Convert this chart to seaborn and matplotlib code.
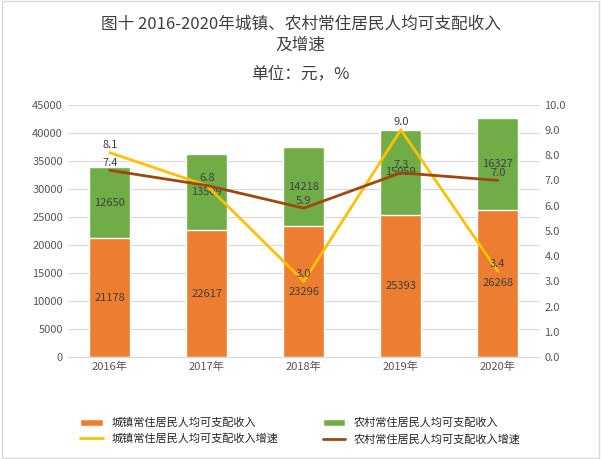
import seaborn as sns
import matplotlib.pyplot as plt
import pandas as pd

years = ["2016年", "2017年", "2018年", "2019年", "2020年"]
urban = [21178, 22617, 23296, 25393, 26268]
rural = [12650, 13509, 14218, 15059, 16327]
urban_growth = [8.1, 6.8, 3.0, 9.0, 3.4]
rural_growth = [7.4, 6.8, 5.9, 7.3, 7.0]

sns.set_style("white")
plt.rcParams['font.family'] = ['Noto Sans CJK SC', 'DejaVu Sans']

df = pd.DataFrame({"year": years, "urban": urban, "rural": rural})
df["total"] = df["urban"] + df["rural"]

fig = plt.figure(figsize=(6.01, 4.59), dpi=100)
ax = fig.add_axes([0.113, 0.222, 0.785, 0.55])
sns.barplot(data=df, x="year", y="total", color="#70AD47", width=0.42, saturation=1, ax=ax,
            label="农村常住居民人均可支配收入")
sns.barplot(data=df, x="year", y="urban", color="#ED7D31", width=0.42, saturation=1, ax=ax,
            label="城镇常住居民人均可支配收入")
for i in range(len(years)):
    ax.text(i, urban[i] / 2, str(urban[i]), ha="center", va="center", fontsize=8, color="#404040")
    ax.text(i, urban[i] + rural[i] / 2, str(rural[i]), ha="center", va="center", fontsize=8, color="#404040")
ax.set_ylim(0, 45000)
ax.set_yticks(range(0, 45001, 5000))
ax.set_xlabel("")
ax.set_ylabel("")
ax.yaxis.grid(True, color="#D9D9D9", lw=0.8)
ax.set_axisbelow(True)
ax.tick_params(labelsize=8, length=0, labelcolor="#595959")
sns.despine(ax=ax, left=True, top=True, right=True)
ax.spines["bottom"].set_color("#D9D9D9")

ax2 = ax.twinx()
sns.lineplot(x=range(5), y=urban_growth, color="#FFC000", lw=2, ax=ax2, label="城镇常住居民人均可支配收入增速")
sns.lineplot(x=range(5), y=rural_growth, color="#9E480E", lw=2, ax=ax2, label="农村常住居民人均可支配收入增速")
for i in range(5):
    ax2.text(i, urban_growth[i] + 0.1, f"{urban_growth[i]:.1f}", ha="center", va="bottom", fontsize=8, color="#404040")
    if rural_growth[i] != urban_growth[i]:
        ax2.text(i, rural_growth[i] + 0.1, f"{rural_growth[i]:.1f}", ha="center", va="bottom", fontsize=8, color="#404040")
ax2.set_ylim(0, 10)
ax2.set_yticks([i for i in range(11)])
ax2.set_yticklabels([f"{i:.1f}" for i in range(11)])
ax2.tick_params(labelsize=8, length=0, labelcolor="#595959")
sns.despine(ax=ax2, left=True, top=True, right=True, bottom=True)

h1, l1 = ax.get_legend_handles_labels()
h2, l2 = ax2.get_legend_handles_labels()
if ax.get_legend():
    ax.get_legend().remove()
ax2.get_legend().remove()
fig.legend([h1[1], h2[0], h1[0], h2[1]], [l1[1], l2[0], l1[0], l2[1]], ncol=2, frameon=False,
           loc="lower center", bbox_to_anchor=(0.5, 0.01), fontsize=8, columnspacing=4)

fig.text(0.5, 0.925, "图十 2016-2020年城镇、农村常住居民人均可支配收入\n及增速", ha="center", va="center",
         fontsize=12, color="#404040", linespacing=1.3)
fig.text(0.5, 0.84, "单位：元，%", ha="center", va="center", fontsize=12, color="#404040")
fig.patches.append(plt.Rectangle((0.003, 0.003), 0.994, 0.994, transform=fig.transFigure,
                                 fill=False, edgecolor="#D9D9D9", lw=1))
fig.savefig("out.png", dpi=100)
